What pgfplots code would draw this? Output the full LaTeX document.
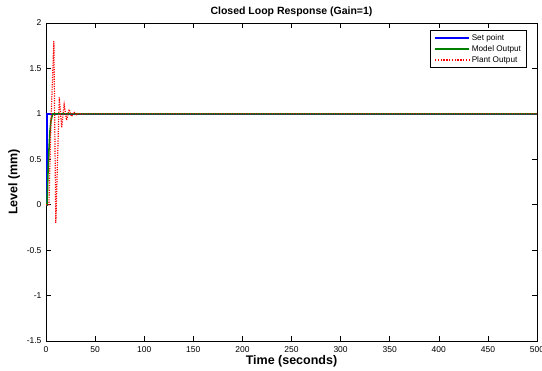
\documentclass[border=0pt]{standalone}
\usepackage{fontspec}
\setmainfont{Liberation Sans}
\usepackage{pgfplots}
\pgfplotsset{compat=1.18}
\definecolor{mgreen}{rgb}{0,0.5,0}
\definecolor{mred}{rgb}{1,0,0}
\begin{document}
\begin{tikzpicture}
\begin{axis}[
  name=ax,
  scale only axis, width=491pt, height=318pt,
  xmin=0, xmax=500, ymin=-1.5, ymax=2,
  xtick={0,50,...,500}, ytick={-1.5,-1,-0.5,0,0.5,1,1.5,2},
  tick align=inside, major tick length=5pt,
  axis line style={line width=0.8pt},
  every tick/.style={black, line width=0.6pt},
  /pgf/number format/.cd, fixed, assume math mode=true,
  /pgfplots/.cd,
  ticklabel style={font=\fontsize{8.5}{9}\selectfont},
  xticklabel style={yshift=-2pt},
  yticklabel style={xshift=-1pt},
  title={\bfseries Closed Loop Response (Gain=1)},
  title style={font=\fontsize{10.5}{12}\selectfont, yshift=-3pt},
  xlabel={\bfseries Time (seconds)},
  ylabel={\bfseries Level (mm)},
  label style={font=\fontsize{12.5}{14}\selectfont},
  xlabel style={yshift=4pt},
  ylabel style={yshift=0pt},
  legend style={at={(0.979,0.978)}, anchor=north east, font=\fontsize{8.2}{9}\selectfont,
    inner xsep=3.5pt, inner ysep=2pt, row sep=-0.5pt, cells={anchor=west}},
  legend image code/.code={\draw[#1] (0pt,0pt) -- (34pt,0pt);},
]
\addplot[forget plot, draw=blue, line width=1.6pt] coordinates {(0,0) (1,0) (1,1) (500,1)};
\addplot[forget plot, draw=mgreen, line width=1.6pt] coordinates {(0,0) (1,0) (2,0.35) (3,0.6) (4,0.8) (5,0.92) (6,0.97) (7,1) (500,1)};
\addplot[forget plot, draw=mred, line width=1.2pt, dash pattern=on 1.2pt off 1.2pt] coordinates {
(0,0) (3,0) (5,0.9) (8,1.8) (10,-0.2) (13.5,1.18) (16,0.85) (18.5,1.1) (21,0.93) (23.5,1.05) (26,0.97) (28.5,1.02) (31,0.99) (33.5,1.005) (36,0.998) (39,1) (500,1)};
\addlegendimage{draw=blue, line width=1.6pt}
\addlegendentry{Set point}
\addlegendimage{draw=mgreen, line width=1.6pt}
\addlegendentry{Model Output}
\addlegendimage{color=mred, draw=mred, line width=1.4pt, dash pattern=on 1.4pt off 1.4pt}
\addlegendentry{Plant Output}
\end{axis}
\pgfresetboundingbox
\path ([shift={(-46pt,-29pt)}]ax.south west) rectangle ([shift={(5pt,23pt)}]ax.north east);
\end{tikzpicture}
\end{document}
